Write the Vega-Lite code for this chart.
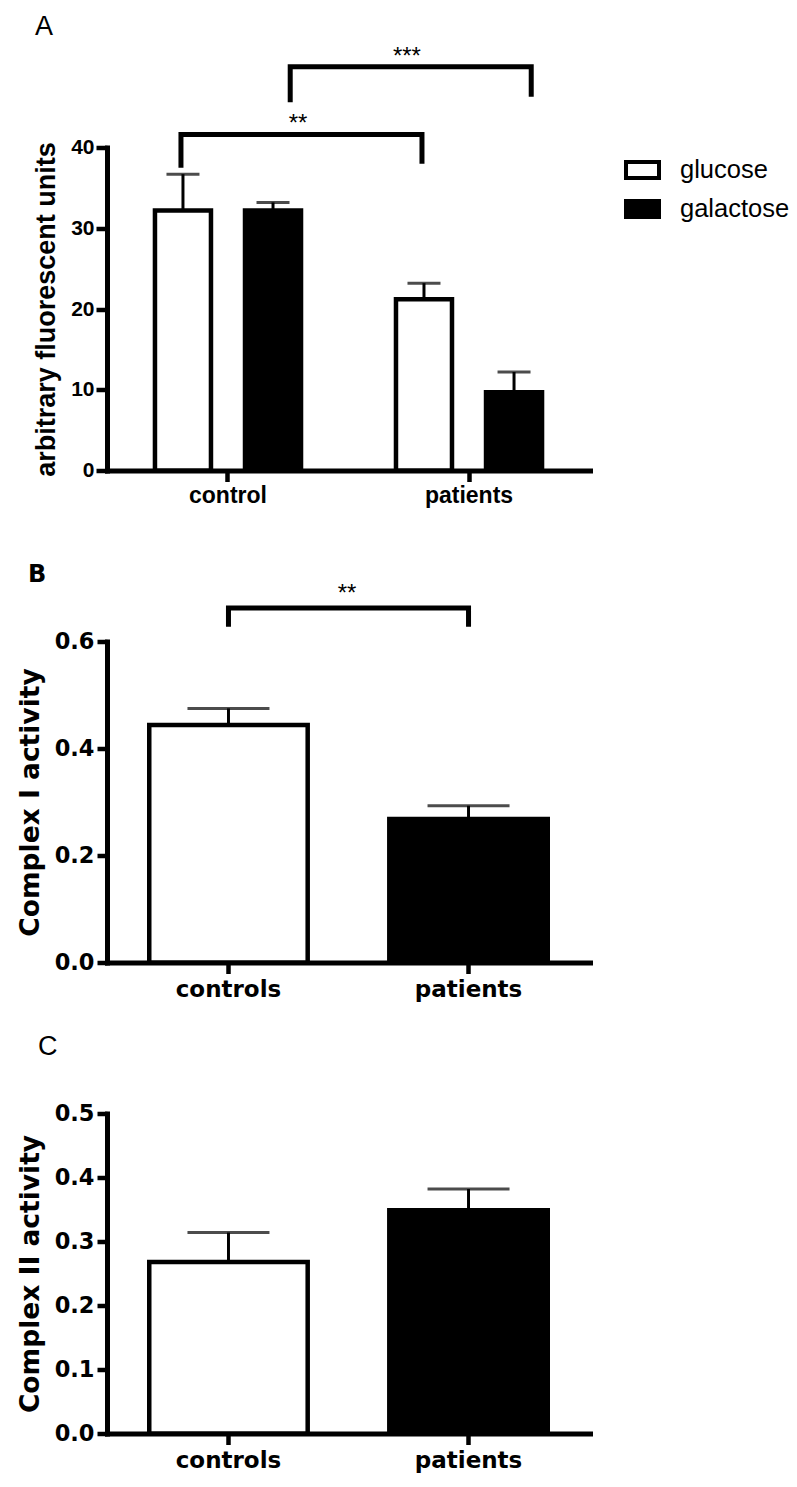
{
  "$schema": "https://vega.github.io/schema/vega-lite/v6.json",
  "background": "white",
  "padding": {"left": 17, "top": 12.5, "right": 0, "bottom": 0},
  "spacing": 31,
  "config": {
    "view": {"stroke": null},
    "axis": {"grid": false, "domainColor": "black", "tickColor": "black", "labelColor": "black", "titleColor": "black", "domainCap": "square"},
    "title": {"color": "black"}
  },
  "resolve": {"scale": {"x": "independent", "y": "independent", "fill": "independent"}, "legend": {"fill": "independent"}},
  "datasets": {
    "a_bars": [
      {"group": "control", "medium": "glucose", "mean": 32.2, "sem_top": 36.7},
      {"group": "control", "medium": "galactose", "mean": 32.2, "sem_top": 33.2},
      {"group": "patients", "medium": "glucose", "mean": 21.2, "sem_top": 23.2},
      {"group": "patients", "medium": "galactose", "mean": 9.7, "sem_top": 12.2}
    ],
    "a_br1": [
      {"group": "control", "y": 37.5, "step": 1},
      {"group": "control", "y": 41.6, "step": 2},
      {"group": "patients", "y": 41.6, "step": 3},
      {"group": "patients", "y": 38.0, "step": 4}
    ],
    "a_br2": [
      {"group": "control", "y": 45.6, "step": 1},
      {"group": "control", "y": 50.0, "step": 2},
      {"group": "patients", "y": 50.0, "step": 3},
      {"group": "patients", "y": 46.3, "step": 4}
    ],
    "a_sig1": [{"group": "control", "label": "**", "y": 42.1}],
    "a_sig2": [{"group": "patients", "label": "***", "y": 50.4}],
    "b_bars": [
      {"group": "controls", "mean": 0.444, "sem_top": 0.475},
      {"group": "patients", "mean": 0.268, "sem_top": 0.293}
    ],
    "b_br": [
      {"group": "controls", "y": 0.6275, "step": 1},
      {"group": "controls", "y": 0.6625, "step": 2},
      {"group": "patients", "y": 0.6625, "step": 3},
      {"group": "patients", "y": 0.6275, "step": 4}
    ],
    "b_sig": [{"group": "controls", "label": "**", "y": 0.675}],
    "c_bars": [
      {"group": "controls", "mean": 0.268, "sem_top": 0.314},
      {"group": "patients", "mean": 0.349, "sem_top": 0.382}
    ]
  },
  "vconcat": [
    {
      "width": 483,
      "height": 323,
      "title": {"text": "A", "anchor": "start", "frame": "group", "font": "Liberation Sans", "fontSize": 27, "fontWeight": "normal", "baseline": "alphabetic", "dx": -72, "offset": -17.5},
      "encoding": {
        "x": {
          "field": "group", "type": "nominal", "sort": ["control", "patients"],
          "scale": {"paddingInner": 0.394, "paddingOuter": 0.199},
          "axis": {"title": " ", "titleFontSize": 20, "titlePadding": 4, "labelAngle": 0, "labelFont": "Liberation Sans", "labelFontSize": 23, "labelFontWeight": "bold", "labelPadding": 3, "tickSize": 11, "tickWidth": 4.5, "domainWidth": 5}
        }
      },
      "layer": [
        {
          "data": {"name": "a_bars"},
          "mark": {"type": "rule", "strokeWidth": 3, "color": "black"},
          "encoding": {
            "xOffset": {"field": "medium", "type": "nominal", "sort": ["glucose", "galactose"], "scale": {"paddingInner": 0.378, "paddingOuter": 0}},
            "y": {"field": "mean", "type": "quantitative", "title": "arbitrary fluorescent units"},
            "y2": {"field": "sem_top"}
          }
        },
        {
          "data": {"name": "a_bars"},
          "mark": {"type": "tick", "size": 33, "thickness": 3, "color": "black"},
          "encoding": {
            "xOffset": {"field": "medium", "type": "nominal", "sort": ["glucose", "galactose"]},
            "y": {"field": "sem_top", "type": "quantitative", "title": "arbitrary fluorescent units"}
          }
        },
        {
          "data": {"name": "a_bars"},
          "mark": {"type": "bar", "stroke": "black", "strokeWidth": 4.5},
          "encoding": {
            "xOffset": {"field": "medium", "type": "nominal", "sort": ["glucose", "galactose"]},
            "y": {
              "field": "mean", "type": "quantitative", "title": "arbitrary fluorescent units",
              "scale": {"domain": [0, 40], "nice": false},
              "axis": {"values": [0, 10, 20, 30, 40], "labelFont": "Liberation Sans", "labelFontSize": 21, "labelFontWeight": "bold", "labelPadding": 2, "tickSize": 11, "tickWidth": 4.5, "domainWidth": 5, "titleFont": "Liberation Sans", "titleFontSize": 27, "titleFontWeight": "bold", "titlePadding": 10}
            },
            "fill": {
              "field": "medium", "type": "nominal",
              "scale": {"domain": ["glucose", "galactose"], "range": ["white", "black"]},
              "legend": {"orient": "none", "legendX": 517, "legendY": 4, "title": null, "padding": 0, "symbolType": "M-1,-0.485H1V0.485H-1Z", "symbolSize": 1089, "symbolStrokeColor": "black", "symbolStrokeWidth": 4, "labelFont": "Liberation Sans", "labelFontSize": 25.5, "labelColor": "black", "labelOffset": 19, "rowPadding": 4}
            }
          }
        },
        {
          "data": {"name": "a_br1"},
          "mark": {"type": "line", "strokeWidth": 5, "color": "black", "strokeJoin": "miter"},
          "encoding": {
            "x": {"field": "group", "type": "nominal", "bandPosition": 0.178},
            "y": {"field": "y", "type": "quantitative", "title": "arbitrary fluorescent units"},
            "order": {"field": "step"}
          }
        },
        {
          "data": {"name": "a_br2"},
          "mark": {"type": "line", "strokeWidth": 5, "color": "black", "strokeJoin": "miter"},
          "encoding": {
            "x": {"field": "group", "type": "nominal", "bandPosition": 0.926},
            "y": {"field": "y", "type": "quantitative", "title": "arbitrary fluorescent units"},
            "order": {"field": "step"}
          }
        },
        {
          "data": {"name": "a_sig1"},
          "mark": {"type": "text", "font": "Liberation Sans", "fontSize": 24, "baseline": "alphabetic", "align": "center", "color": "black"},
          "encoding": {
            "x": {"field": "group", "type": "nominal", "bandPosition": 0.98},
            "y": {"field": "y", "type": "quantitative", "title": "arbitrary fluorescent units"},
            "text": {"field": "label"}
          }
        },
        {
          "data": {"name": "a_sig2"},
          "mark": {"type": "text", "font": "Liberation Sans", "fontSize": 24, "baseline": "alphabetic", "align": "center", "color": "black"},
          "encoding": {
            "x": {"field": "group", "type": "nominal", "bandPosition": 0.075},
            "y": {"field": "y", "type": "quantitative", "title": "arbitrary fluorescent units"},
            "text": {"field": "label"}
          }
        }
      ]
    },
    {
      "width": 483,
      "height": 321,
      "title": {"text": "B", "anchor": "start", "frame": "group", "font": "DejaVu Sans", "fontSize": 24, "fontWeight": "bold", "baseline": "alphabetic", "dx": -79, "offset": -23.5},
      "encoding": {
        "x": {
          "field": "group", "type": "nominal", "sort": ["controls", "patients"],
          "scale": {"paddingInner": 0.34, "paddingOuter": 0.176},
          "axis": {"title": null, "labelAngle": 0, "labelFont": "DejaVu Sans", "labelFontSize": 23, "labelFontWeight": "bold", "labelPadding": 5, "tickSize": 11, "tickWidth": 4.5, "domainWidth": 5}
        }
      },
      "layer": [
        {
          "data": {"name": "b_bars"},
          "mark": {"type": "rule", "strokeWidth": 3, "color": "black"},
          "encoding": {
            "y": {"field": "mean", "type": "quantitative", "title": "Complex I activity"},
            "y2": {"field": "sem_top"}
          }
        },
        {
          "data": {"name": "b_bars"},
          "mark": {"type": "tick", "size": 82, "thickness": 3, "color": "black"},
          "encoding": {
            "y": {"field": "sem_top", "type": "quantitative", "title": "Complex I activity"}
          }
        },
        {
          "data": {"name": "b_bars"},
          "mark": {"type": "bar", "stroke": "black", "strokeWidth": 4.5},
          "encoding": {
            "y": {
              "field": "mean", "type": "quantitative", "title": "Complex I activity",
              "scale": {"domain": [0, 0.6], "nice": false},
              "axis": {"values": [0, 0.2, 0.4, 0.6], "format": ".1f", "labelFont": "DejaVu Sans", "labelFontSize": 22.5, "labelFontWeight": "bold", "labelPadding": 3, "tickSize": 10, "tickWidth": 4.5, "domainWidth": 5, "titleFont": "DejaVu Sans", "titleFontSize": 26.5, "titleFontWeight": "bold", "titlePadding": 10}
            },
            "fill": {
              "field": "group", "type": "nominal",
              "scale": {"domain": ["controls", "patients"], "range": ["white", "black"]},
              "legend": null
            }
          }
        },
        {
          "data": {"name": "b_br"},
          "mark": {"type": "line", "strokeWidth": 5, "color": "black", "strokeJoin": "miter"},
          "encoding": {
            "y": {"field": "y", "type": "quantitative", "title": "Complex I activity"},
            "order": {"field": "step"}
          }
        },
        {
          "data": {"name": "b_sig"},
          "mark": {"type": "text", "font": "Liberation Sans", "fontSize": 24, "baseline": "alphabetic", "align": "center", "color": "black"},
          "encoding": {
            "x": {"field": "group", "type": "nominal", "bandPosition": 1.248},
            "y": {"field": "y", "type": "quantitative", "title": "Complex I activity"},
            "text": {"field": "label"}
          }
        }
      ]
    },
    {
      "width": 483,
      "height": 320,
      "title": {"text": "C", "anchor": "start", "frame": "group", "font": "Liberation Sans", "fontSize": 27, "fontWeight": "normal", "baseline": "alphabetic", "dx": -69, "offset": 21},
      "encoding": {
        "x": {
          "field": "group", "type": "nominal", "sort": ["controls", "patients"],
          "scale": {"paddingInner": 0.34, "paddingOuter": 0.176},
          "axis": {"title": null, "labelAngle": 0, "labelFont": "DejaVu Sans", "labelFontSize": 23, "labelFontWeight": "bold", "labelPadding": 5, "tickSize": 11, "tickWidth": 4.5, "domainWidth": 5}
        }
      },
      "layer": [
        {
          "data": {"name": "c_bars"},
          "mark": {"type": "rule", "strokeWidth": 3, "color": "black"},
          "encoding": {
            "y": {"field": "mean", "type": "quantitative", "title": "Complex II activity"},
            "y2": {"field": "sem_top"}
          }
        },
        {
          "data": {"name": "c_bars"},
          "mark": {"type": "tick", "size": 82, "thickness": 3, "color": "black"},
          "encoding": {
            "y": {"field": "sem_top", "type": "quantitative", "title": "Complex II activity"}
          }
        },
        {
          "data": {"name": "c_bars"},
          "mark": {"type": "bar", "stroke": "black", "strokeWidth": 4.5},
          "encoding": {
            "y": {
              "field": "mean", "type": "quantitative", "title": "Complex II activity",
              "scale": {"domain": [0, 0.5], "nice": false},
              "axis": {"values": [0, 0.1, 0.2, 0.3, 0.4, 0.5], "format": ".1f", "labelFont": "DejaVu Sans", "labelFontSize": 22.5, "labelFontWeight": "bold", "labelPadding": 3, "tickSize": 10, "tickWidth": 4.5, "domainWidth": 5, "titleFont": "DejaVu Sans", "titleFontSize": 26.5, "titleFontWeight": "bold", "titlePadding": 10}
            },
            "fill": {
              "field": "group", "type": "nominal",
              "scale": {"domain": ["controls", "patients"], "range": ["white", "black"]},
              "legend": null
            }
          }
        }
      ]
    }
  ]
}
